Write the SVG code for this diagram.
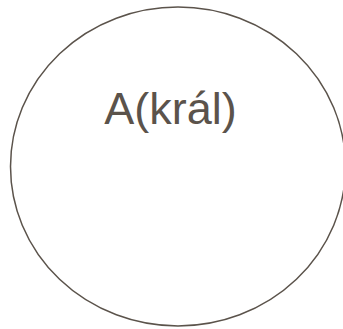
<svg xmlns="http://www.w3.org/2000/svg" width="343" height="329" viewBox="0 0 343 329">
<style>
.node ellipse{fill:#ffffff;stroke:#5b534b;stroke-width:1.5}
.node text{font-family:"Liberation Sans",Arial,sans-serif;fill:#5b534b;font-size:45px}
</style>
<rect width="343" height="329" fill="#ffffff"/>
<g id="connectors"></g>
<g id="node-A" class="node">
<ellipse cx="178" cy="166.5" rx="167.5" ry="159.5"/>
<text x="170.5" y="124" text-anchor="middle">A(král)</text>
</g>
</svg>
